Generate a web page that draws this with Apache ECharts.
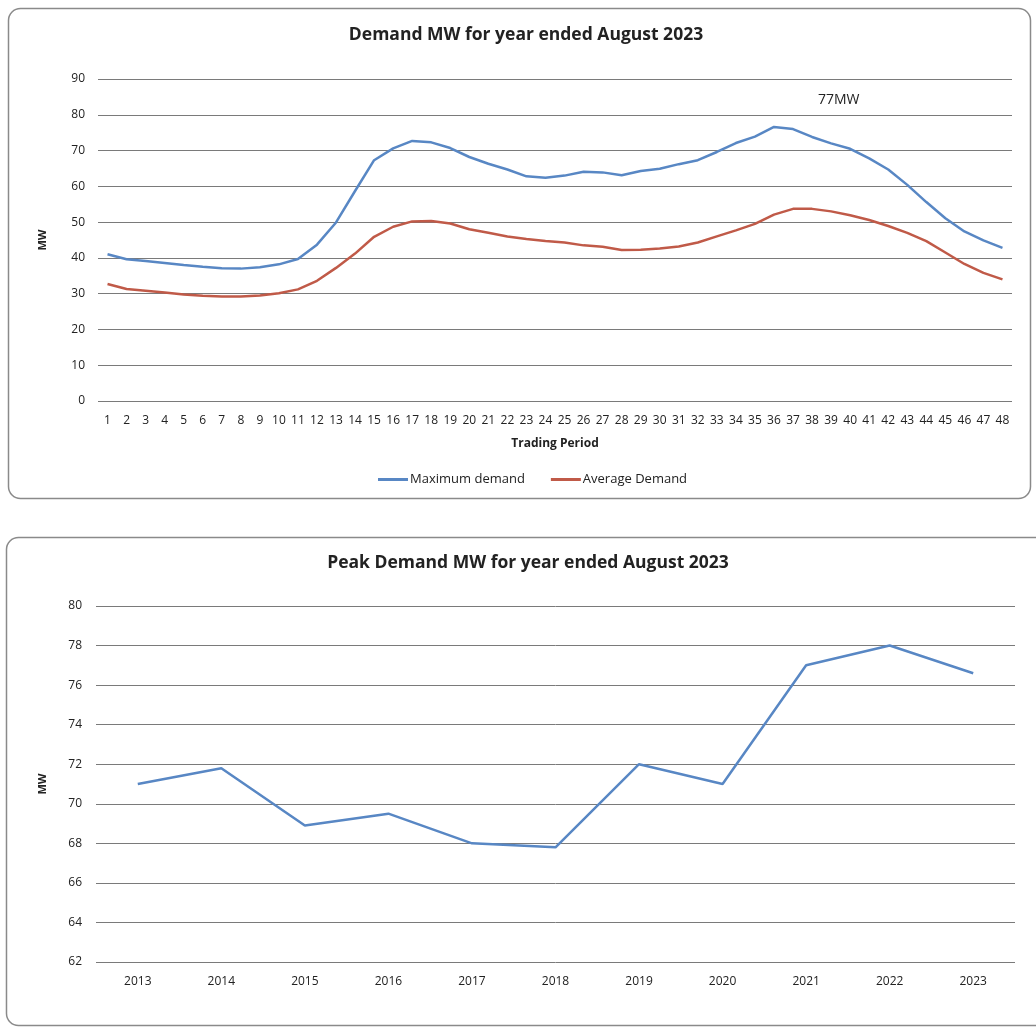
<!DOCTYPE html>
<html>
<head>
<meta charset="utf-8">
<script src="https://cdn.jsdelivr.net/npm/echarts@6/dist/echarts.min.js"></script>
<style>
  html, body { margin: 0; padding: 0; background: #ffffff; }
  #chart { width: 1036px; height: 1027px; }
</style>
</head>
<body>
<div id="chart"></div>
<script>
// Half-hour trading periods 1..48
const tradingPeriods = Array.from({ length: 48 }, (_, i) => String(i + 1));

// Maximum demand (MW) per trading period
const maxDemand = [
  41.0, 39.6, 39.1, 38.6, 38.0, 37.5, 37.1, 37.0, 37.4, 38.2,
  39.7, 43.7, 49.9, 58.7, 67.3, 70.6, 72.7, 72.3, 70.7, 68.2,
  66.3, 64.7, 62.8, 62.4, 63.0, 64.1, 63.9, 63.1, 64.3, 64.9,
  66.2, 67.3, 69.6, 72.1, 73.9, 76.6, 76.0, 73.8, 72.0, 70.5,
  67.8, 64.7, 60.4, 55.6, 51.1, 47.4, 44.9, 42.8
];

// Average demand (MW) per trading period
const avgDemand = [
  32.7, 31.3, 30.8, 30.3, 29.8, 29.4, 29.2, 29.2, 29.5, 30.1,
  31.2, 33.6, 37.2, 41.2, 45.9, 48.7, 50.2, 50.3, 49.6, 48.0,
  47.0, 46.0, 45.3, 44.7, 44.3, 43.5, 43.1, 42.2, 42.3, 42.6,
  43.2, 44.3, 46.0, 47.7, 49.5, 52.1, 53.7, 53.7, 53.0, 51.9,
  50.6, 48.9, 47.0, 44.7, 41.5, 38.3, 35.8, 34.0
];

// Annual peak demand (MW)
const years = ['2013', '2014', '2015', '2016', '2017', '2018', '2019', '2020', '2021', '2022', '2023'];
const peakDemand = [71.0, 71.8, 68.9, 69.5, 68.0, 67.8, 72.0, 71.0, 77.0, 78.0, 76.6];

const FONT = '"Liberation Sans Narrow", "Open Sans", "Noto Sans", sans-serif';
const SANS = '"Open Sans", "Noto Sans", sans-serif';
const BLUE = '#5887c4';
const RED = '#c05a48';
const GRID_LINE = '#7a7a7a';
const TEXT = '#222222';

// Annotation shows the rounded yearly peak
const peakLabel = Math.round(Math.max(...maxDemand)) + 'MW';

const chart = echarts.init(document.getElementById('chart'), null, { renderer: 'canvas' });

const valueAxisCommon = {
  type: 'value',
  axisLine: { show: false },
  axisTick: { show: false },
  splitLine: { show: true, lineStyle: { color: GRID_LINE, width: 1 } },
  axisLabel: { color: TEXT, fontFamily: FONT, fontSize: 12, margin: 13 },
  nameLocation: 'middle',
  nameRotate: 90,
  nameTextStyle: { color: TEXT, fontFamily: FONT, fontSize: 11, fontWeight: 'bold' }
};

chart.setOption({
  animation: false,
  backgroundColor: '#ffffff',
  graphic: [
    {
      type: 'rect', z: -10,
      shape: { x: 8.5, y: 8.5, width: 1022, height: 490, r: 12 },
      style: { fill: 'none', stroke: '#8a8a8a', lineWidth: 1.5 }
    },
    {
      type: 'rect', z: -10,
      shape: { x: 6.5, y: 537.5, width: 1040, height: 488, r: 12 },
      style: { fill: 'none', stroke: '#8a8a8a', lineWidth: 1.5 }
    },
    {
      type: 'text', left: 818, top: 93,
      style: { text: peakLabel, fill: TEXT, font: '14px "Open Sans", sans-serif' }
    }
  ],
  title: [
    {
      text: 'Demand MW for year ended August 2023',
      left: 521, top: 21, textAlign: 'center',
      textStyle: { fontFamily: SANS, fontSize: 17.5, fontWeight: 'bold', color: TEXT }
    },
    {
      text: 'Peak Demand MW for year ended August 2023',
      left: 523, top: 549, textAlign: 'center',
      textStyle: { fontFamily: SANS, fontSize: 17.5, fontWeight: 'bold', color: TEXT }
    }
  ],
  legend: {
    data: ['Maximum demand', 'Average Demand'],
    left: 373,
    top: 468,
    icon: 'rect',
    itemWidth: 30,
    itemHeight: 3,
    itemGap: 26,
    textStyle: { color: TEXT, fontFamily: SANS, fontSize: 13, padding: [0, 0, 0, -3] }
  },
  grid: [
    { left: 98, right: 24, top: 79, bottom: 626, containLabel: false },
    { left: 96, right: 21, top: 606, bottom: 65, containLabel: false }
  ],
  xAxis: [
    {
      type: 'category', gridIndex: 0, data: tradingPeriods,
      boundaryGap: true,
      axisLine: { show: false },
      axisTick: { show: false },
      axisLabel: { color: TEXT, fontFamily: FONT, fontSize: 12, interval: 0, margin: 14 },
      name: 'Trading Period', nameLocation: 'middle', nameGap: 37,
      nameTextStyle: { color: TEXT, fontFamily: FONT, fontSize: 12, fontWeight: 'bold' }
    },
    {
      type: 'category', gridIndex: 1, data: years,
      boundaryGap: true,
      axisLine: { show: false },
      axisTick: { show: false },
      axisLabel: { color: TEXT, fontFamily: SANS, fontSize: 12, margin: 14 }
    }
  ],
  yAxis: [
    Object.assign({}, valueAxisCommon, {
      gridIndex: 0, min: 0, max: 90, interval: 10,
      name: 'MW', nameGap: 50
    }),
    Object.assign({}, valueAxisCommon, {
      gridIndex: 1, min: 62, max: 80, interval: 2,
      name: 'MW', nameGap: 48,
      axisLabel: { color: TEXT, fontFamily: SANS, fontSize: 12, margin: 14 }
    })
  ],
  series: [
    {
      name: 'Maximum demand', type: 'line', xAxisIndex: 0, yAxisIndex: 0,
      data: maxDemand, showSymbol: false, symbol: 'none',
      lineStyle: { color: BLUE, width: 2.5 }, itemStyle: { color: BLUE }
    },
    {
      name: 'Average Demand', type: 'line', xAxisIndex: 0, yAxisIndex: 0,
      data: avgDemand, showSymbol: false, symbol: 'none',
      lineStyle: { color: RED, width: 2.5 }, itemStyle: { color: RED }
    },
    {
      name: 'Peak Demand', type: 'line', xAxisIndex: 1, yAxisIndex: 1,
      data: peakDemand, showSymbol: false, symbol: 'none',
      lineStyle: { color: BLUE, width: 2.5 }, itemStyle: { color: BLUE }
    }
  ]
});
</script>
</body>
</html>
